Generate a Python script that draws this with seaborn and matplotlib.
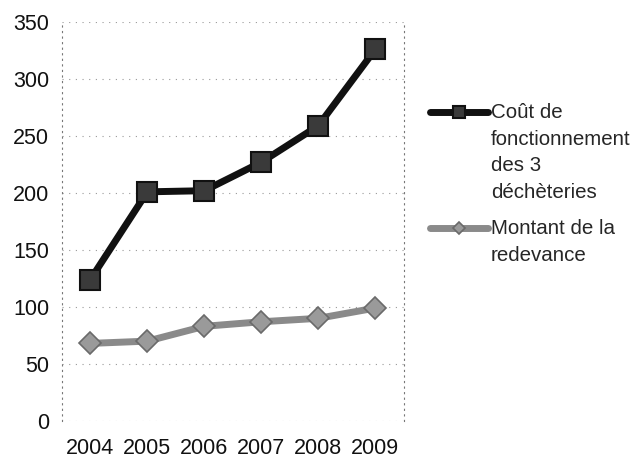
import matplotlib
matplotlib.use("Agg")
import matplotlib.pyplot as plt
import seaborn as sns
import pandas as pd

years = ["2004", "2005", "2006", "2007", "2008", "2009"]
cout = [124, 201, 202, 227, 259, 326]
redevance = [68, 70, 83, 87, 90, 99]
label_cout = "Coût de\nfonctionnement\ndes 3\ndéchèteries"
label_red = "Montant de la\nredevance"
yticks = [0, 50, 100, 150, 200, 250, 300, 350]

sns.set_theme(style="white")
plt.rcParams['font.family'] = ['Liberation Sans', 'DejaVu Sans']

df = pd.DataFrame({"year": years + years,
                   "value": cout + redevance,
                   "serie": [label_cout] * 6 + [label_red] * 6})

fig = plt.figure(figsize=(6.44, 4.59), dpi=100)
ax = fig.add_axes([0.096, 0.083, 0.531, 0.869])

sns.lineplot(data=df[df.serie == label_cout], x="year", y="value", ax=ax,
             color="#111111", linewidth=5, marker="s", markersize=14,
             markerfacecolor="#3a3a3a", markeredgecolor="#111111",
             markeredgewidth=1.5, label=label_cout, sort=False)
sns.lineplot(data=df[df.serie == label_red], x="year", y="value", ax=ax,
             color="#8a8a8a", linewidth=5, marker="D", markersize=11,
             markerfacecolor="#9a9a9a", markeredgecolor="#6a6a6a",
             markeredgewidth=1.2, label=label_red, sort=False)

ax.set_xlim(-0.5, 5.5)
ax.set_ylim(0, 350)
ax.set_yticks(yticks)
ax.set_xlabel("")
ax.set_ylabel("")
ax.yaxis.grid(True, linestyle=(0, (1, 5)), color="#999999", linewidth=0.8)
for s in ["top", "bottom"]:
    ax.spines[s].set_visible(False)
for s in ["left", "right"]:
    ax.spines[s].set_linestyle((0, (1, 4)))
    ax.spines[s].set_color("#777777")
    ax.spines[s].set_linewidth(0.8)
ax.tick_params(axis="both", labelsize=15.5, colors="#111111")
ax.tick_params(axis="y", length=3, width=0.6, color="#777777", pad=6)
ax.tick_params(axis="x", length=0, pad=12)

ax.get_legend().remove()
h, l = ax.get_legend_handles_labels()
leg = fig.legend(h, l, loc="upper left", bbox_to_anchor=(0.652, 0.797),
                 frameon=False, fontsize=14.8, handlelength=2.8,
                 handletextpad=0.15, labelspacing=0.85, borderpad=0,
                 markerscale=0.6, handleheight=1.2)
for t in leg.get_texts():
    t.set_linespacing(1.5)
for col in leg._legend_handle_box.get_children():
    for item in col.get_children():
        item.align = "top"

fig.savefig("out.png", dpi=100)
